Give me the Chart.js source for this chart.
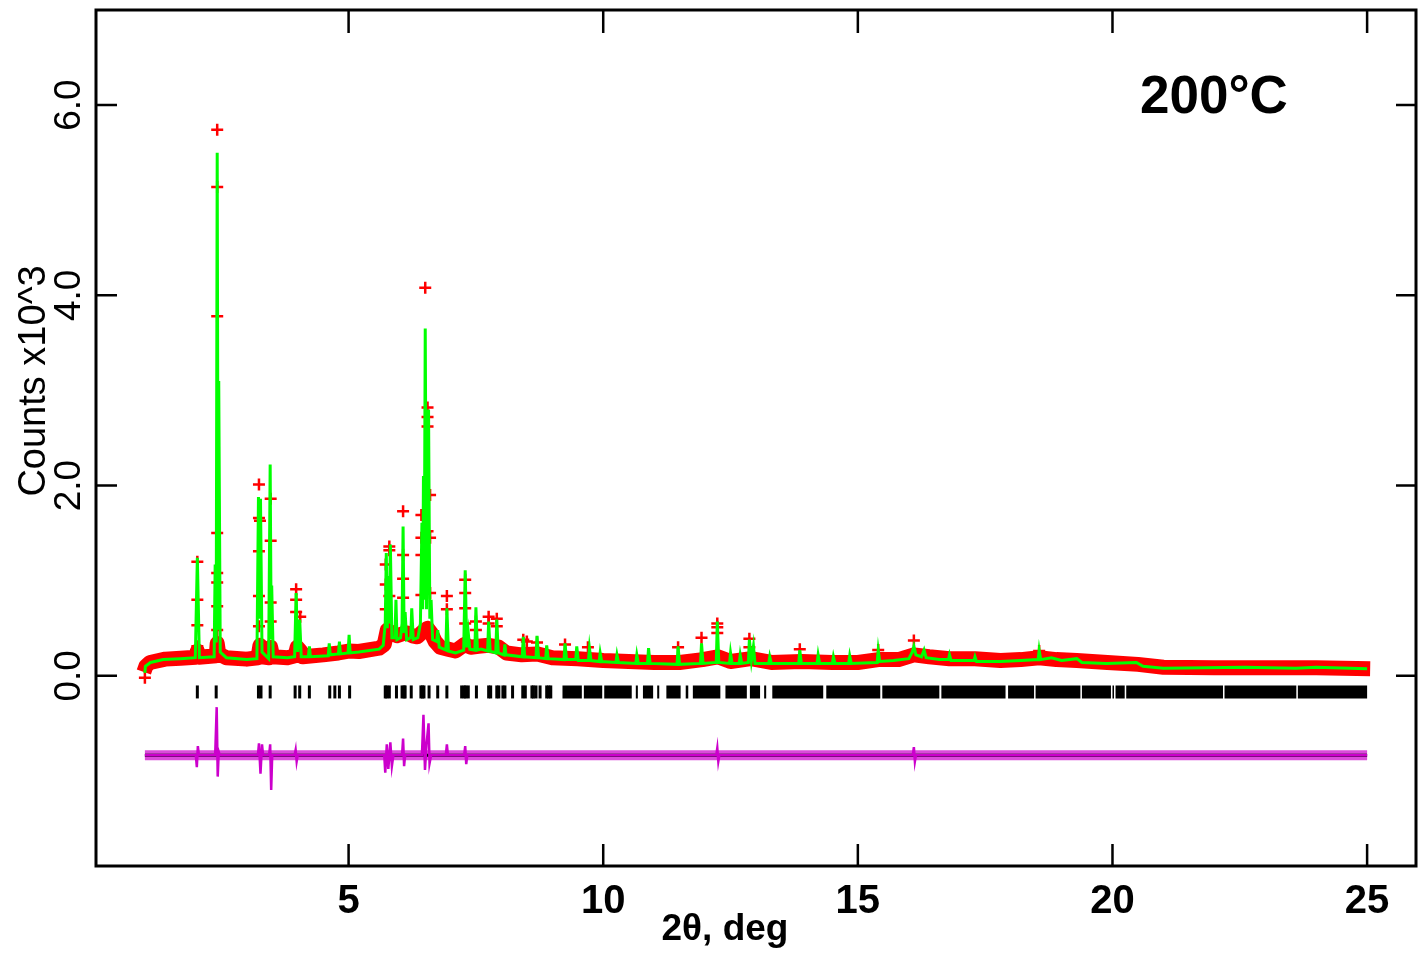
<!DOCTYPE html>
<html>
<head>
<meta charset="utf-8">
<script src="https://cdn.jsdelivr.net/npm/chart.js@4.4.1/dist/chart.umd.min.js"></script>
<style>
  html, body { margin: 0; padding: 0; background: #fff; }
  #wrap { width: 1426px; height: 954px; position: relative; }
</style>
</head>
<body>
<div id="wrap"><canvas id="chart"></canvas></div>
<script>
// Axis ticks and labels
const xTicks = [5, 10, 15, 20, 25];
const xTickLabels = ['5', '10', '15', '20', '25'];
const yTicks = [0, 2, 4, 6];
const yTickLabels = ['0.0', '2.0', '4.0', '6.0'];
const xTitle = '2\u03b8, deg';
const yTitle = 'Counts x10^3';
const tempLabel = '200\u00b0C';

// Calculated profile (green), counts x10^3
const calcX = [
  1.00, 1.01, 1.11, 1.36, 1.70, 1.99, 2.03, 2.07, 2.36, 2.38, 2.40, 2.42, 2.44, 2.45, 2.48, 2.60,
  3.00, 3.20, 3.23, 3.25, 3.27, 3.30, 3.43, 3.46, 3.48, 3.49, 3.52, 3.80, 3.94, 3.97, 4.00, 4.04, 4.07,
  4.21, 4.23, 4.25, 4.60, 4.62, 4.64, 4.80, 4.82, 4.84, 4.99, 5.01, 5.03, 5.20, 5.60, 5.68,
  5.72, 5.74, 5.76, 5.78, 5.80, 5.82, 5.85, 5.91, 5.93, 5.95, 6.02, 6.05, 6.07, 6.09, 6.11, 6.14,
  6.22, 6.24, 6.27, 6.36, 6.41, 6.44, 6.455, 6.47, 6.485, 6.505, 6.53, 6.57, 6.595, 6.62, 6.65,
  6.73, 6.75, 6.78, 6.91, 6.93, 6.96, 7.10, 7.26, 7.29, 7.32, 7.35, 7.38, 7.48, 7.50, 7.53, 7.60,
  7.73, 7.75, 7.78, 7.89, 7.91, 7.94, 8.05, 8.07, 8.09, 8.41, 8.43, 8.46, 8.68, 8.70, 8.73,
  8.87, 8.89, 8.92, 9.23, 9.25, 9.28, 9.46, 9.48, 9.51, 9.71, 9.73, 9.76, 9.92, 9.94, 9.97,
  10.25, 10.27, 10.30, 10.64, 10.66, 10.69, 10.87, 10.89, 10.92, 11.45, 11.47, 11.50,
  11.91, 11.93, 11.96, 12.22, 12.24, 12.27, 12.48, 12.50, 12.53, 12.67, 12.69, 12.72,
  12.85, 12.87, 12.91, 12.95, 12.98, 13.25, 13.27, 13.30, 13.84, 13.86, 13.89,
  14.20, 14.22, 14.25, 14.50, 14.52, 14.55, 14.82, 14.84, 14.87, 15.38, 15.40, 15.43,
  15.70, 16.00, 16.07, 16.10, 16.14, 16.25, 16.30, 16.34, 16.60, 16.78, 16.80, 16.83, 17.28, 17.30, 17.33,
  17.80, 18.20, 18.54, 18.56, 18.59, 18.80, 19.00, 19.30, 19.40, 19.88, 20.47, 20.60, 21.00,
  22.60, 23.60, 24.00, 25.00
];
const calcY = [
  0.03, 0.10, 0.14, 0.17, 0.18, 0.19, 1.24, 0.19, 0.20, 1.17, 0.35, 5.50, 0.50, 3.10, 0.25, 0.19,
  0.17, 0.18, 1.88, 0.60, 1.86, 0.25, 0.18, 2.22, 0.40, 0.95, 0.20, 0.19, 0.20, 0.87, 0.25, 0.59, 0.20,
  0.20, 0.31, 0.20, 0.21, 0.34, 0.22, 0.23, 0.36, 0.23, 0.24, 0.43, 0.24, 0.25, 0.28, 0.32,
  0.55, 1.29, 0.50, 1.05, 0.55, 1.38, 0.40, 0.40, 0.80, 0.38, 0.40, 0.55, 1.57, 0.45, 0.67, 0.38,
  0.40, 0.71, 0.38, 0.40, 0.55, 1.61, 0.70, 2.10, 0.80, 3.65, 0.70, 2.80, 0.60, 0.80, 0.38,
  0.36, 0.48, 0.30, 0.27, 0.71, 0.26, 0.24, 0.27, 1.11, 0.30, 0.45, 0.28, 0.27, 0.72, 0.27, 0.28,
  0.26, 0.57, 0.26, 0.24, 0.59, 0.24, 0.22, 0.33, 0.22, 0.20, 0.41, 0.20, 0.19, 0.42, 0.19,
  0.18, 0.32, 0.18, 0.17, 0.34, 0.17, 0.17, 0.31, 0.16, 0.16, 0.29, 0.16, 0.15, 0.24, 0.15,
  0.14, 0.22, 0.14, 0.13, 0.22, 0.13, 0.13, 0.29, 0.13, 0.12, 0.31, 0.12,
  0.13, 0.34, 0.13, 0.14, 0.57, 0.14, 0.13, 0.24, 0.13, 0.13, 0.22, 0.13,
  0.14, 0.38, 0.16, 0.31, 0.13, 0.13, 0.20, 0.13, 0.13, 0.27, 0.13,
  0.13, 0.22, 0.13, 0.13, 0.20, 0.13, 0.13, 0.21, 0.13, 0.14, 0.27, 0.15,
  0.16, 0.18, 0.25, 0.31, 0.22, 0.20, 0.27, 0.19, 0.17, 0.17, 0.22, 0.16, 0.16, 0.20, 0.15,
  0.15, 0.16, 0.17, 0.27, 0.17, 0.19, 0.16, 0.18, 0.14, 0.13, 0.14, 0.10, 0.08,
  0.09, 0.08, 0.09, 0.075
];

// Observed profile: dense band of points along the pattern (red)
const obsBandX = [
  0.98, 1.02, 1.10, 1.40, 1.70, 2.00, 2.03, 2.06, 2.40, 2.42, 2.45, 2.60, 3.00, 3.22, 3.26, 3.30,
  3.44, 3.47, 3.51, 3.80, 3.95, 3.99, 4.06, 4.10, 4.50, 4.80, 5.00, 5.20, 5.60, 5.70, 5.76, 5.85,
  5.95, 6.05, 6.15, 6.25, 6.35, 6.45, 6.55, 6.62, 6.70, 6.80, 6.95, 7.10, 7.28, 7.40, 7.55, 7.75,
  7.95, 8.10, 8.40, 8.70, 9.00, 9.50, 10.00, 10.50, 11.00, 11.50, 11.95, 12.25, 12.50,
  12.90, 13.30, 13.90, 14.50, 15.00, 15.40, 15.80, 16.10, 16.40, 16.80, 17.30, 17.80, 18.20,
  18.56, 18.90, 19.30, 19.90, 20.50, 21.00, 22.00, 23.00, 24.00, 25.06
];
const obsBandY = [
  0.04, 0.10, 0.14, 0.175, 0.185, 0.195, 0.26, 0.195, 0.21, 0.34, 0.23, 0.19, 0.175, 0.19, 0.32, 0.20,
  0.19, 0.30, 0.20, 0.19, 0.21, 0.30, 0.26, 0.20, 0.22, 0.24, 0.26, 0.255, 0.29, 0.33, 0.48, 0.45,
  0.42, 0.44, 0.45, 0.42, 0.41, 0.46, 0.50, 0.45, 0.36, 0.30, 0.28, 0.26, 0.33, 0.30, 0.31, 0.32,
  0.30, 0.24, 0.22, 0.23, 0.19, 0.18, 0.16, 0.15, 0.14, 0.14, 0.17, 0.20, 0.15,
  0.18, 0.14, 0.15, 0.14, 0.14, 0.17, 0.17, 0.22, 0.20, 0.18, 0.18, 0.16, 0.17,
  0.19, 0.17, 0.16, 0.14, 0.12, 0.09, 0.085, 0.085, 0.085, 0.075
];

// Observed points standing out on the peaks (red crosses)
const obsCrossX = [
  1.00, 2.03, 2.03, 2.03, 2.03,
  2.42, 2.42, 2.42, 2.42, 2.42, 2.42, 2.42, 2.42,
  3.24, 3.24, 3.26, 3.24, 3.24, 3.24,
  3.47, 3.47, 3.47, 3.47,
  3.97, 3.97, 3.97, 4.05,
  5.73, 5.73, 5.73, 5.80, 5.80, 5.80,
  6.07, 6.07, 6.07, 6.07,
  6.43, 6.43, 6.43, 6.43, 6.505, 6.55, 6.55, 6.55, 6.55, 6.60, 6.60, 6.60,
  6.93, 6.93, 7.29, 7.29, 7.29, 7.29, 7.50, 7.50, 7.75, 7.75, 7.91, 7.91,
  8.43, 8.50, 8.70, 9.25, 9.70, 11.47, 11.93, 12.24, 12.24, 12.24, 12.87, 12.87, 13.86, 15.40, 16.10, 18.56
];
const obsCrossY = [
  -0.02, 1.20, 0.80, 0.53, 0.31,
  5.74, 5.14, 3.78, 1.50, 1.08, 0.98, 0.73, 0.48,
  2.01, 1.66, 1.63, 1.31, 0.84, 0.52,
  1.86, 1.42, 0.77, 0.57,
  0.91, 0.80, 0.67, 0.62,
  1.17, 0.96, 0.70, 1.36, 1.32, 0.84,
  1.73, 1.27, 1.02, 0.82,
  1.69, 1.45, 1.27, 0.85, 4.08, 2.82, 2.72, 2.62, 1.52, 1.90, 1.45, 0.87,
  0.84, 0.70, 1.01, 0.87, 0.71, 0.55, 0.57, 0.48, 0.62, 0.55, 0.60, 0.52,
  0.38, 0.36, 0.35, 0.33, 0.30, 0.30, 0.40, 0.55, 0.51, 0.45, 0.39, 0.30, 0.28, 0.27, 0.37, 0.26
];

// Reflection positions (black tick row)
const reflX = [
  2.03, 2.40, 3.23, 3.28, 3.46, 3.95, 4.04, 4.23, 4.63, 4.73, 4.82, 5.02, 5.72, 5.75, 5.80, 5.94,
  6.05, 6.09, 6.11, 6.23, 6.42, 6.45, 6.48, 6.58, 6.75, 6.93, 7.22, 7.27, 7.30, 7.35, 7.51, 7.75,
  7.79, 7.91, 7.95, 8.03, 8.07, 8.22, 8.42, 8.47, 8.60, 8.63, 8.68, 8.76, 8.89, 8.93, 8.97
];
// where reflections merge into solid runs
const reflRunStart = [9.20, 9.62, 10.02, 10.64, 10.78, 11.06, 11.24, 11.62, 11.76, 12.40, 12.88, 13.16, 13.32, 14.38, 15.48, 16.64, 17.95, 18.49, 19.40, 20.00, 20.06, 20.27, 22.20, 23.64];
const reflRunEnd   = [9.58, 9.98, 10.56, 10.68, 10.98, 11.10, 11.52, 11.67, 12.30, 12.82, 13.08, 13.20, 14.32, 15.44, 16.60, 17.90, 18.46, 19.37, 19.97, 20.03, 20.24, 22.17, 23.61, 25.00];
const reflLevel = -0.17;

// Difference curve (magenta) around its zero line
const diffZero = -0.835;
const diffBandX = [1.0, 25.0];
const diffBandY = [-0.835, -0.835];
const diffX = [
  1.00, 2.00, 2.02, 2.04, 2.06, 2.38, 2.41, 2.43, 2.45, 2.47, 3.22, 3.24, 3.27, 3.30, 3.32,
  3.44, 3.46, 3.48, 3.50, 3.94, 3.96, 3.98, 4.00, 5.70, 5.72, 5.75, 5.78, 5.82, 5.85, 5.88,
  6.05, 6.07, 6.09, 6.11, 6.44, 6.47, 6.50, 6.53, 6.57, 6.59, 6.62, 6.91, 6.93, 6.95,
  7.27, 7.29, 7.31, 7.33, 12.22, 12.24, 12.26, 12.28, 16.08, 16.10, 16.12, 16.14, 25.00
];
const diffY = [
  -0.835, -0.835, -0.96, -0.74, -0.835, -0.835, -0.33, -1.06, -0.80, -0.835, -0.835, -0.71, -1.03, -0.72, -0.835,
  -0.835, -0.72, -1.20, -0.835, -0.835, -0.78, -0.90, -0.835, -0.835, -1.02, -0.72, -0.98, -0.70, -0.95, -0.835,
  -0.835, -0.66, -0.95, -0.835, -0.835, -0.41, -0.99, -0.72, -0.50, -0.92, -0.835, -0.835, -0.72, -0.835,
  -0.835, -0.74, -0.93, -0.835, -0.835, -0.76, -0.90, -0.835, -0.835, -0.75, -0.90, -0.835, -0.835
];

function pts(xs, ys) {
  return xs.map((x, i) => ({ x: x, y: ys[i] }));
}
function runs(starts, ends, level) {
  let out = [];
  starts.forEach((s, i) => {
    out.push({ x: s, y: level }, { x: ends[i], y: level }, { x: ends[i], y: null });
  });
  return out;
}

const FONT = '"Liberation Sans", Arial, sans-serif';

const framePlugin = {
  id: 'frame',
  beforeDraw(chart) {
    const ctx = chart.ctx;
    ctx.save();
    ctx.fillStyle = '#fff';
    ctx.fillRect(0, 0, chart.width, chart.height);
    ctx.restore();
  },
  afterDraw(chart) {
    const ctx = chart.ctx;
    const a = chart.chartArea;
    const sx = chart.scales.x, sy = chart.scales.y;
    ctx.save();
    ctx.strokeStyle = '#000';
    ctx.lineWidth = 3;
    ctx.strokeRect(a.left, a.top, a.right - a.left, a.bottom - a.top);

    // inward ticks on all four sides
    ctx.lineWidth = 2.5;
    ctx.beginPath();
    xTicks.forEach(v => {
      const px = sx.getPixelForValue(v);
      ctx.moveTo(px, a.top); ctx.lineTo(px, a.top + 23);
      ctx.moveTo(px, a.bottom); ctx.lineTo(px, a.bottom - 22);
    });
    yTicks.forEach(v => {
      const py = sy.getPixelForValue(v);
      ctx.moveTo(a.left, py); ctx.lineTo(a.left + 21, py);
      ctx.moveTo(a.right, py); ctx.lineTo(a.right - 20, py);
    });
    ctx.stroke();

    ctx.fillStyle = '#000';
    ctx.textAlign = 'center';
    ctx.textBaseline = 'alphabetic';

    // x tick labels + title
    ctx.font = 'bold 40px ' + FONT;
    xTicks.forEach((v, i) => ctx.fillText(xTickLabels[i], sx.getPixelForValue(v), a.bottom + 47));
    ctx.font = 'bold 37px ' + FONT;
    ctx.fillText(xTitle, 725, a.bottom + 74);

    // y tick labels, rotated
    ctx.font = '37px ' + FONT;
    yTicks.forEach((v, i) => {
      ctx.save();
      ctx.translate(80, sy.getPixelForValue(v));
      ctx.rotate(-Math.PI / 2);
      ctx.fillText(yTickLabels[i], 0, 0);
      ctx.restore();
    });
    ctx.font = '38px ' + FONT;
    ctx.save();
    ctx.translate(45, 381);
    ctx.rotate(-Math.PI / 2);
    ctx.fillText(yTitle, 0, 0);
    ctx.restore();

    // temperature label
    ctx.font = 'bold 53px ' + FONT;
    ctx.textAlign = 'left';
    ctx.fillText(tempLabel, 1140, 113);
    ctx.restore();
  }
};

new Chart(document.getElementById('chart'), {
  type: 'scatter',
  data: {
    datasets: [
      { // observed band
        data: pts(obsBandX, obsBandY), showLine: true, pointRadius: 0,
        borderColor: '#ff0000', borderWidth: 15, borderCapStyle: 'butt', borderJoinStyle: 'round', order: 9
      },
      { // observed crosses
        data: pts(obsCrossX, obsCrossY), showLine: false, pointStyle: 'cross', pointRadius: 6,
        borderColor: '#ff0000', borderWidth: 2.5, order: 8
      },
      { // calculated
        data: pts(calcX, calcY), showLine: true, pointRadius: 0,
        borderColor: '#00ff00', borderWidth: 3, order: 7
      },
      { // reflection ticks
        data: reflX.map(x => ({ x: x, y: reflLevel })), showLine: false, pointStyle: 'line',
        rotation: 90, pointRadius: 6.5, borderColor: '#000', borderWidth: 3, order: 6
      },
      { // dense reflection runs
        data: runs(reflRunStart, reflRunEnd, reflLevel), showLine: true, pointRadius: 0,
        borderColor: '#000', borderWidth: 13, borderCapStyle: 'butt', spanGaps: false, order: 5
      },
      { // difference noise band
        data: pts(diffBandX, diffBandY), showLine: true, pointRadius: 0,
        borderColor: 'rgba(204,0,204,0.7)', borderWidth: 10, order: 4
      },
      { // zero line of the difference
        data: [{ x: 1.0, y: diffZero }, { x: 25.0, y: diffZero }], showLine: true, pointRadius: 0,
        borderColor: '#000', borderWidth: 3, order: 3
      },
      { // difference spikes
        data: pts(diffX, diffY), showLine: true, pointRadius: 0,
        borderColor: '#cc00cc', borderWidth: 2.5, order: 2
      }
    ]
  },
  options: {
    responsive: true,
    maintainAspectRatio: false,
    animation: false,
    layout: { padding: { left: 96, right: 10, top: 10, bottom: 88 } },
    plugins: { legend: { display: false }, tooltip: { enabled: false } },
    elements: { line: { tension: 0 } },
    scales: {
      x: { type: 'linear', min: 0.04, max: 25.96, display: false },
      y: { type: 'linear', min: -2, max: 7, display: false }
    }
  },
  plugins: [framePlugin]
});
</script>
</body>
</html>
